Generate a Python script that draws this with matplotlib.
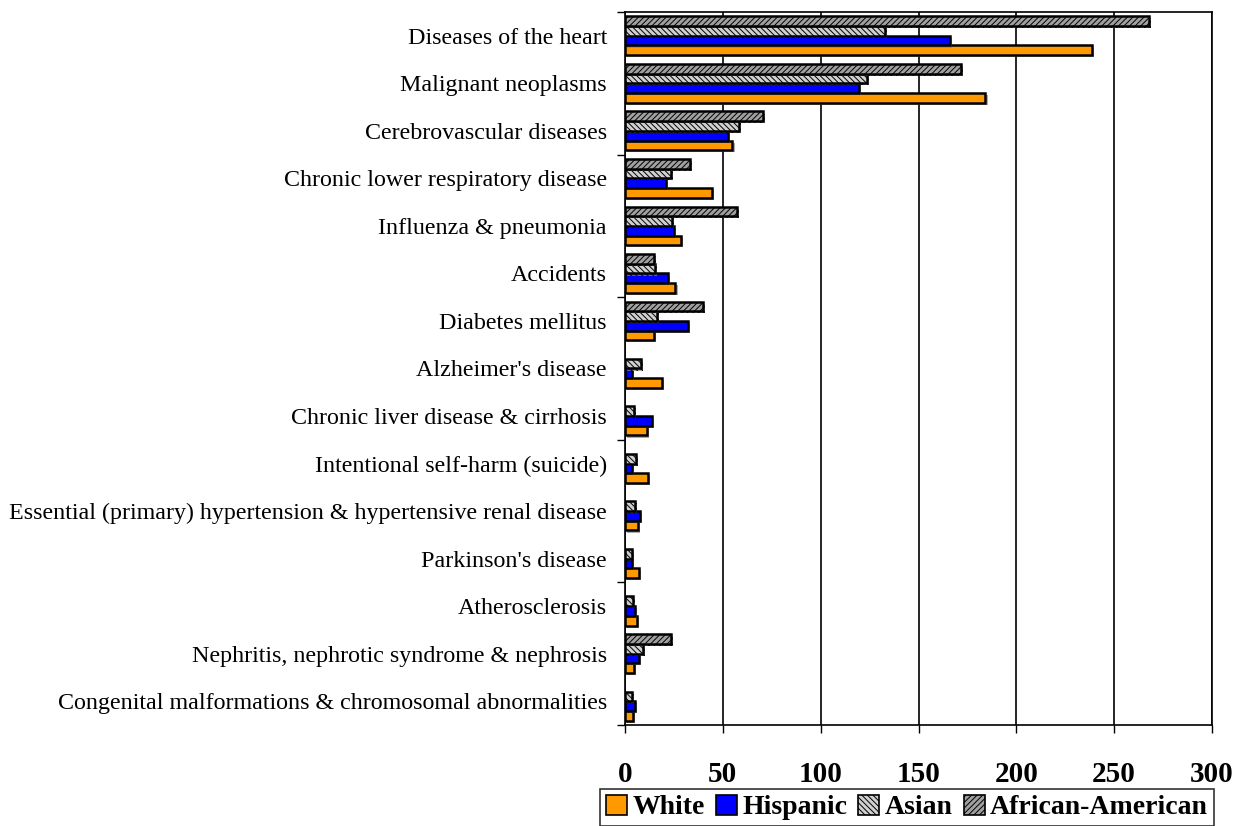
import numpy as np
import matplotlib
matplotlib.use("Agg")
import matplotlib.pyplot as plt
import matplotlib.patheffects as pe
from matplotlib.patches import Patch

categories = [
    "Diseases of the heart",
    "Malignant neoplasms",
    "Cerebrovascular diseases",
    "Chronic lower respiratory disease",
    "Influenza & pneumonia",
    "Accidents",
    "Diabetes mellitus",
    "Alzheimer's disease",
    "Chronic liver disease & cirrhosis",
    "Intentional self-harm (suicide)",
    "Essential (primary) hypertension & hypertensive renal disease",
    "Parkinson's disease",
    "Atherosclerosis",
    "Nephritis, nephrotic syndrome & nephrosis",
    "Congenital malformations & chromosomal abnormalities",
]
white = [238.8, 184.2, 54.9, 44.6, 28.7, 25.8, 14.8, 18.9, 11.4, 11.7, 6.8, 7.0, 6.1, 4.6, 4.3]
hispanic = [166.0, 119.7, 52.5, 21.1, 25.0, 21.8, 32.3, 3.7, 13.9, 3.7, 7.5, 3.4, 5.3, 7.0, 4.9]
asian = [133.0, 123.8, 58.3, 23.3, 24.0, 15.5, 16.5, 8.0, 4.4, 5.8, 5.1, 3.7, 3.9, 9.0, 3.4]
african_american = [267.6, 171.6, 70.5, 33.2, 57.0, 15.0, 39.8, np.nan, np.nan, np.nan, np.nan, np.nan, np.nan, 23.3, np.nan]
series_names = ["White", "Hispanic", "Asian", "African-American"]
x_ticks = [0, 50, 100, 150, 200, 250, 300]

plt.rcParams['font.family'] = ['Liberation Serif', 'DejaVu Serif']
plt.rcParams['hatch.linewidth'] = 0.7

fig = plt.figure(figsize=(12.36, 8.26), dpi=100)
ax = fig.add_axes([625/1236, 1-725/826, (1212-625)/1236, (725-12)/826])

y = np.arange(len(categories))
h = 0.204
shadow = [pe.SimplePatchShadow(offset=(1.5, -1.5), shadow_rgbFace='#888888', alpha=0.7), pe.Normal()]

styles = [
    dict(color='#FF9900', hatch=None),
    dict(color='#0000FF', hatch=None),
    dict(color='#D0D0D0', hatch='\\\\\\\\\\\\'),
    dict(color='#A0A0A0', hatch='//////'),
]
data = [white, hispanic, asian, african_american]
offsets = [1.5, 0.5, -0.5, -1.5]
for vals, st, off in zip(data, styles, offsets):
    bars = ax.barh(y + off*h, vals, height=h, color=st['color'], edgecolor='black',
                   linewidth=1.8, hatch=st['hatch'], zorder=3)
    for b in bars:
        b.set_path_effects(shadow)

ax.set_xlim(0, 300)
ax.set_ylim(len(categories)-0.5, -0.5)
ax.set_xticks(x_ticks)
ax.set_xticklabels([str(t) for t in x_ticks], fontsize=21, fontweight='bold')
ax.tick_params(axis='x', direction='out', length=6, width=1, pad=20)
ax.set_yticks(y)
ax.set_yticklabels(categories, fontsize=17.3)
ax.tick_params(axis='y', which='major', length=0, pad=13)
ax.set_yticks(np.arange(-0.5, len(categories), 3), minor=True)
ax.tick_params(axis='y', which='minor', direction='out', length=6, width=1)
ax.grid(axis='x', color='black', linewidth=1.2, zorder=0)
ax.set_axisbelow(True)
for s in ax.spines.values():
    s.set_linewidth(1.2)
    s.set_color('black')

handles = [Patch(facecolor=st['color'], edgecolor='black', hatch=st['hatch'], linewidth=1.2) for st in styles]
leg = fig.legend(handles, series_names, loc='upper center', bbox_to_anchor=(907/1236, 1-789/826),
                 ncol=4, frameon=True, fancybox=False, edgecolor='black', borderaxespad=0,
                 prop={'weight': 'bold', 'size': 20}, handlelength=0.75, handleheight=0.75,
                 handletextpad=0.2, columnspacing=0.4, borderpad=0.2)
leg.get_frame().set_linewidth(1.2)

fig.savefig('out.png', dpi=100)
